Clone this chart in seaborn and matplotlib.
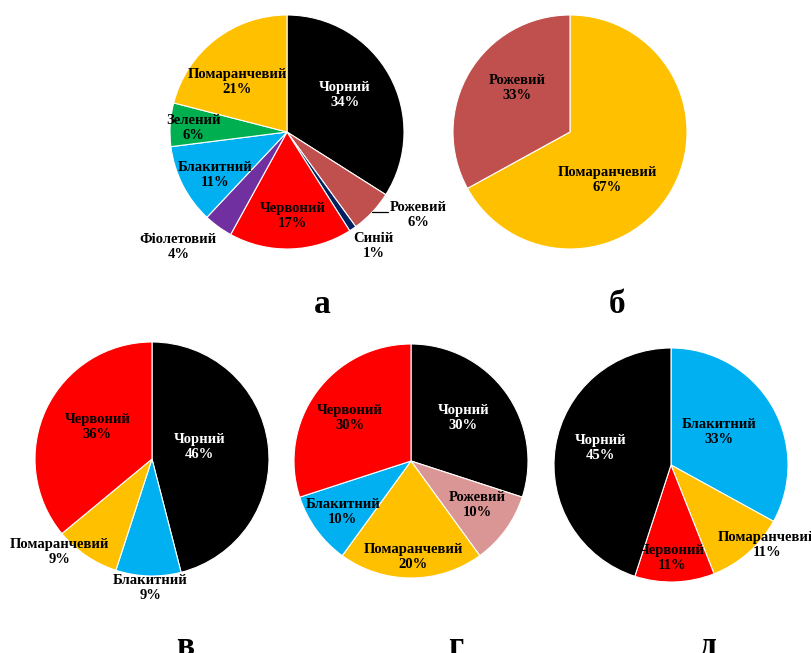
import numpy as np
import matplotlib
matplotlib.use("Agg")
import matplotlib.pyplot as plt
import seaborn as sns

sns.set_theme(style="white")
plt.rcParams['font.family'] = ['Liberation Serif', 'DejaVu Serif']

# ---------------- data ----------------
a_labels = ["Чорний", "Рожевий", "Синій", "Червоний", "Фіолетовий",
            "Блакитний", "Зелений", "Помаранчевий"]
a_values = [34, 6, 1, 17, 4, 11, 6, 21]

b_labels = ["Помаранчевий", "Рожевий"]
b_values = [67, 33]

v_labels = ["Чорний", "Блакитний", "Помаранчевий", "Червоний"]
v_values = [46, 9, 9, 36]

g_labels = ["Чорний", "Рожевий", "Помаранчевий", "Блакитний", "Червоний"]
g_values = [30, 10, 20, 10, 30]

d_labels = ["Блакитний", "Помаранчевий", "Червоний", "Чорний"]
d_values = [33, 11, 11, 45]

panel_letters = ["а", "б", "в", "г", "д"]

# ---------------- styles ----------------
colors = {
    "Чорний": "#000000",
    "Рожевий": "#C0504D",
    "Синій": "#002060",
    "Червоний": "#FF0000",
    "Фіолетовий": "#7030A0",
    "Блакитний": "#00B0F0",
    "Зелений": "#00B050",
    "Помаранчевий": "#FFC000",
}
rose_light = "#D99694"

W, H = 811, 653
R = 117

# layout: centre (px from top-left), letter position, label (distance, angle nudge)
panels = [
    dict(labels=a_labels, values=a_values, center=(287, 132), letter=(322, 313),
         place=[(0.59, 4), (1.33, 11), (1.22, 3), (0.72, 2), (1.35, -7.5),
                (0.72, 4), (0.80, 1), (0.60, 7)],
         leader=[1], override={}),
    dict(labels=b_labels, values=b_values, center=(570, 132), letter=(617, 313),
         place=[(0.52, -22), (0.59, -9)], leader=[], override={}),
    dict(labels=v_labels, values=v_values, center=(152, 459), letter=(185, 655),
         place=[(0.42, 7), (1.10, 1), (1.12, -10.5), (0.54, -5)],
         leader=[], override={}),
    dict(labels=g_labels, values=g_values, center=(411, 461), letter=(456, 655),
         place=[(0.58, 3.6), (0.68, 2.7), (0.82, 1.2), (0.73, 0.9), (0.64, 0.8)],
         leader=[], override={"Рожевий": rose_light}),
    dict(labels=d_labels, values=d_values, center=(671, 465), letter=(708, 655),
         place=[(0.50, 3.4), (1.07, 8.8), (0.795, -1.2), (0.62, -4.5)],
         leader=[], override={}),
]

fig = plt.figure(figsize=(W / 100, H / 100), dpi=100)
ax = fig.add_axes([0, 0, 1, 1])

for p, letter in zip(panels, panel_letters):
    cx, cy = p["center"][0], H - p["center"][1]
    cols = [p["override"].get(n, colors[n]) for n in p["labels"]]
    wedges, _ = ax.pie(p["values"], colors=cols, startangle=90, counterclock=False,
                       radius=R, center=(cx, cy),
                       wedgeprops=dict(edgecolor="white", linewidth=0.8))
    for i, (w, name, val) in enumerate(zip(wedges, p["labels"], p["values"])):
        mid = 0.5 * (w.theta1 + w.theta2)
        dist, nudge = p["place"][i]
        ang = np.deg2rad(mid + nudge)
        tx, ty = cx + dist * R * np.cos(ang), cy + dist * R * np.sin(ang)
        tcol = "white" if name == "Чорний" else "black"
        ax.text(tx, ty, f"{name}\n{val}%", ha="center", va="center",
                fontsize=10.5, fontweight="bold", color=tcol, linespacing=1.2)
        if i in p["leader"]:
            m = np.deg2rad(mid)
            ex, ey = cx + R * np.cos(m), cy + R * np.sin(m)
            ax.plot([ex, ex + 16], [ey, ey], color="black", lw=0.9)
    lx, ly = p["letter"]
    ax.text(lx, H - ly, letter, ha="center", va="baseline", fontsize=24,
            fontweight="bold", color="black")

ax.set_xlim(0, W)
ax.set_ylim(0, H)
ax.set_axis_off()
fig.savefig("out.png", dpi=100, facecolor="white")
